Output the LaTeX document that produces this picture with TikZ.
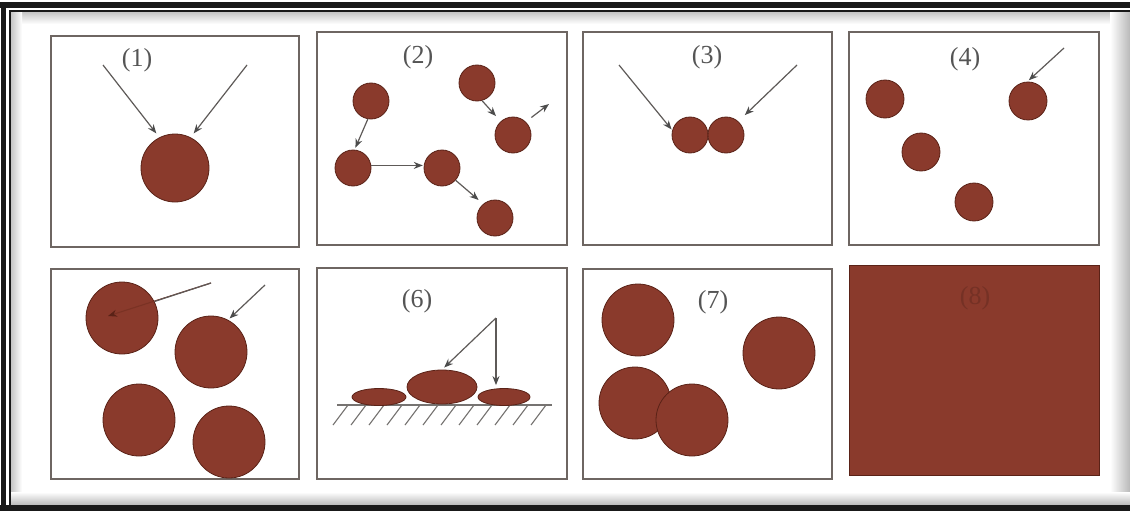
\documentclass[tikz,border=0pt]{standalone}
\usepackage{fontspec}
\setmainfont{Liberation Serif}
\usetikzlibrary{shapes.geometric,arrows.meta}
\definecolor{ballfill}{HTML}{8A3A2C}
\definecolor{balledge}{HTML}{5A2217}
\definecolor{panelgray}{HTML}{6E6662}
\definecolor{arrgray}{HTML}{5E5A58}
\definecolor{labelgray}{HTML}{555555}
\definecolor{darkball}{HTML}{7A3224}
\begin{document}
\begin{tikzpicture}[x=1pt,y=-1pt,
  panel/.style={draw=panelgray,line width=1.4pt},
  ball/.style={circle,fill=ballfill,draw=balledge,line width=0.8pt,inner sep=0pt},
  oval/.style={ellipse,fill=ballfill,draw=balledge,line width=0.8pt,inner sep=0pt},
  arr/.style={draw=arrgray,line width=1.2pt,-{Stealth[length=9pt,width=7pt,color=black!70]}},
  plain/.style={draw=arrgray,line width=1.2pt},
  hatch/.style={draw=arrgray!85,line width=1.1pt},
  lbl/.style={font=\fontsize{26}{28}\selectfont,text=labelgray,inner sep=0pt}]
\useasboundingbox (0,0) rectangle (1130,511);
% ---- outer frame ----
\fill[white] (0,0) rectangle (1130,511);
\shade[top color=gray!45,bottom color=white] (11,12) rectangle (1130,24);
\shade[left color=gray!45,right color=white] (11,12) rectangle (22,505);
\shade[left color=white,right color=gray!55] (1110,12) rectangle (1130,505);
\shade[top color=white,bottom color=gray!55] (11,492) rectangle (1130,505);
\fill[black!90] (0,2) rectangle (1130,8);
\fill[black!90] (1,2) rectangle (6,511);
\fill[black!90] (0,505) rectangle (1130,511);
\fill[black!90] (9,10) rectangle (1130,12);
\fill[black!90] (9,10) rectangle (11,505);
% ---- panels ----
\fill[white] (51,36) rectangle (299,247);
\fill[white] (317,32) rectangle (567,245);
\fill[white] (583,32) rectangle (832,245);
\fill[white] (849,32) rectangle (1099,245);
\fill[white] (51,269) rectangle (299,479);
\fill[white] (317,268) rectangle (567,479);
\fill[white] (583,269) rectangle (832,479);
\draw[panel] (51,36) rectangle (299,247);
\draw[panel] (317,32) rectangle (567,245);
\draw[panel] (583,32) rectangle (832,245);
\draw[panel] (849,32) rectangle (1099,245);
\draw[panel] (51,269) rectangle (299,479);
\draw[panel] (317,268) rectangle (567,479);
\draw[panel] (583,269) rectangle (832,479);
\fill[ballfill,draw=balledge,line width=1pt] (849,265) rectangle (1099,475);
% ---- panel 1 ----
\node[lbl] (l1) at (137,60) {(1)};
\node[ball,minimum size=68pt] (p1a) at (175,168) {};
\coordinate (p1s1) at (103,65);
\coordinate (p1s2) at (247,65);
\draw[arr,shorten >=5pt] (p1s1) -- (p1a.117);
\draw[arr,shorten >=5pt] (p1s2) -- (p1a.63);
% ---- panel 2 ----
\node[lbl] (l2) at (418,57) {(2)};
\node[ball,minimum size=36pt] (p2a) at (371,101) {};
\node[ball,minimum size=36pt] (p2b) at (353,168) {};
\node[ball,minimum size=36pt] (p2c) at (442,168) {};
\node[ball,minimum size=36pt] (p2d) at (477,83) {};
\node[ball,minimum size=36pt] (p2e) at (513,135) {};
\node[ball,minimum size=36pt] (p2f) at (495,218) {};
\coordinate (p2o) at (549,104);
\draw[arr,shorten >=2pt] (p2a.-100) -- (p2b.85);
\draw[arr,shorten >=1pt] (p2b.8) -- (p2c.172);
\draw[arr,shorten >=6pt] (p2c.-42) -- (p2f.130);
\draw[arr,shorten >=7pt] (p2d.-74) -- (p2e.132);
\draw[arr,shorten <=7pt] (p2e.46) -- (p2o);
% ---- panel 3 ----
\node[lbl] (l3) at (707,57) {(3)};
\node[ball,minimum size=36pt] (p3a) at (690,135) {};
\node[ball,minimum size=36pt] (p3b) at (726,135) {};
\coordinate (p3s1) at (619,65);
\coordinate (p3s2) at (797,65);
\draw[arr,shorten >=1pt] (p3s1) -- (p3a.165);
\draw[arr,shorten >=9pt] (p3s2) -- (p3b.48);
% ---- panel 4 ----
\node[lbl] (l4) at (965,59) {(4)};
\node[ball,minimum size=38pt] (p4a) at (885,99) {};
\node[ball,minimum size=38pt] (p4b) at (921,152) {};
\node[ball,minimum size=38pt] (p4c) at (974,202) {};
\node[ball,minimum size=38pt] (p4d) at (1028,101) {};
\coordinate (p4s) at (1064,48);
\draw[arr,shorten >=2pt] (p4s) -- (p4d.92);
% ---- panel 5 ----
\node[ball,minimum size=72pt] (p5a) at (122,318) {};
\node[ball,minimum size=72pt] (p5b) at (211,352) {};
\node[ball,minimum size=72pt] (p5c) at (139,420) {};
\node[ball,minimum size=72pt] (p5d) at (229,442) {};
\coordinate (p5s1) at (211,283);
\coordinate (p5h) at (108,316);
\coordinate (p5s2) at (265,285);
\draw[draw=darkball,line width=1.1pt,-{Stealth[length=9pt,width=7pt,color=balledge]}] (p5s1) -- (p5h);
\draw[plain] (p5s1) -- (p5a.27);
\draw[arr,shorten >=2pt] (p5s2) -- (p5b.62);
% ---- panel 6 ----
\node[lbl] (l6) at (417,301) {(6)};
\draw[hatch,line width=1.3pt] (337,405) -- (552,405);
\foreach \i in {0,...,11} \draw[hatch] ({333+18*\i},425) -- ({348+18*\i},405);
\node[oval,minimum width=54pt,minimum height=17pt] (p6a) at (379,397) {};
\node[oval,minimum width=70pt,minimum height=34pt] (p6b) at (442,387) {};
\node[oval,minimum width=52pt,minimum height=17pt] (p6c) at (504,397) {};
\coordinate (p6t) at (496,318);
\draw[arr,shorten >=3pt] (p6t) -- (p6b.north);
\draw[arr,shorten >=3pt] (p6t) -- (p6t |- p6c.north);
% ---- panel 7 ----
\node[lbl] (l7) at (713,302) {(7)};
\node[ball,minimum size=72pt] (p7a) at (638,320) {};
\node[ball,minimum size=72pt] (p7b) at (779,353) {};
\node[ball,minimum size=72pt] (p7c) at (635,403) {};
\node[ball,minimum size=72pt] (p7d) at (692,420) {};
% ---- panel 8 ----
\node[lbl,text=ballfill!85!black] (l8) at (975,298) {(8)};
\end{tikzpicture}
\end{document}
